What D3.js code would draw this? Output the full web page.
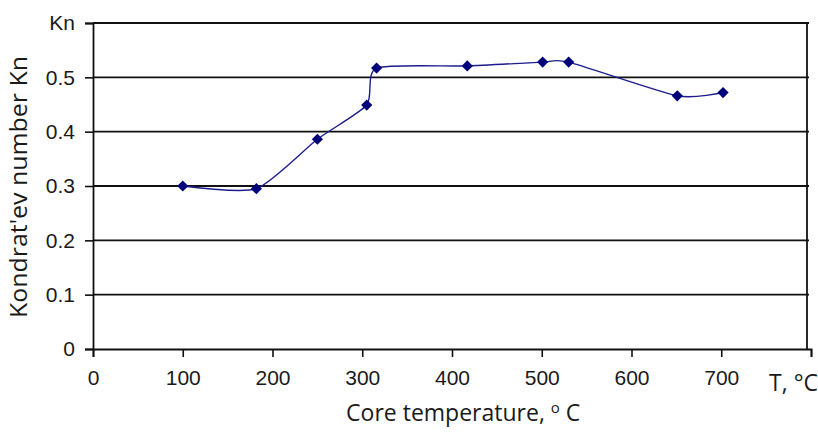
<!DOCTYPE html>
<html>
<head>
    <title>Kondrat'ev number vs core temperature</title>
    <script src="https://d3js.org/d3.v7.min.js"></script>
    <style>
        body { margin: 0; background: #fff; }
        .tick text { font-family: "Liberation Sans", Arial, sans-serif; font-size: 21px; fill: #1a1a1a; }
        .title { font-family: "Open Sans", sans-serif; font-size: 23px; fill: #1a1a1a; }
        .grid line { stroke: #111; stroke-width: 1.8px; }
        .line { fill: none; stroke: #1c1c8e; stroke-width: 1.4px; }
    </style>
</head>
<body>
    <svg width="818" height="433"></svg>
    <script>
        // data
        var temps = [100, 182, 250, 305, 316, 417, 501, 530, 651, 702];
        var knValues = [0.300, 0.295, 0.386, 0.449, 0.517, 0.521, 0.528, 0.528, 0.466, 0.472];
        var xTicks = [0, 100, 200, 300, 400, 500, 600, 700, 800];
        var yTicks = [0, 0.1, 0.2, 0.3, 0.4, 0.5, 0.6];

        var svg = d3.select("svg"),
            margin = {top: 23, right: 7, bottom: 84, left: 93},
            width = +svg.attr("width") - margin.left - margin.right,
            height = +svg.attr("height") - margin.top - margin.bottom;

        var x = d3.scaleLinear().domain([0, 800]).range([0, width]);
        var y = d3.scaleLinear().domain([0, 0.6]).range([height, 0]);

        var g = svg.append("g")
            .attr("transform", "translate(" + margin.left + "," + margin.top + ")");

        // horizontal grid lines
        g.append("g")
            .attr("class", "grid")
            .selectAll("line")
            .data(yTicks.slice(1))
            .join("line")
            .attr("x1", 0)
            .attr("x2", width - 2)
            .attr("y1", d => y(d))
            .attr("y2", d => y(d));

        // right frame line
        g.append("line")
            .attr("x1", width - 4).attr("x2", width - 4)
            .attr("y1", 0).attr("y2", height)
            .attr("stroke", "#111").attr("stroke-width", 1.8);

        var xAxis = g.append("g")
            .attr("transform", "translate(0," + height + ")")
            .call(d3.axisBottom(x).tickValues(xTicks).tickSize(8).tickPadding(13)
                .tickFormat(d => d === 800 ? "" : d));
        xAxis.select(".domain").attr("stroke", "#111").attr("stroke-width", 1.8);
        xAxis.selectAll(".tick line").attr("stroke", "#111").attr("stroke-width", 1.6);

        var yAxis = g.append("g")
            .call(d3.axisLeft(y).tickValues(yTicks).tickSize(8).tickPadding(10)
                .tickFormat(d => d === 0.6 ? "Kn" : (d === 0 ? "0" : d3.format(".1f")(d))));
        yAxis.select(".domain").attr("stroke", "#111").attr("stroke-width", 1.8);
        yAxis.selectAll(".tick line").attr("stroke", "#111").attr("stroke-width", 1.6);

        // "T, °C" at the end of the x axis
        g.append("text")
            .attr("class", "title")
            .attr("x", x(800) + 7)
            .attr("y", height + 42)
            .attr("text-anchor", "end")
            .text("T, \u00b0C");

        // axis titles
        var xt = g.append("text")
            .attr("class", "title")
            .attr("x", x(282))
            .attr("y", height + 72)
            .text("Core temperature, ");
        xt.append("tspan").attr("font-size", "15px").attr("dy", -8).text("o");
        xt.append("tspan").attr("dy", 8).text(" C");

        g.append("text")
            .attr("class", "title")
            .attr("transform", "rotate(-90)")
            .attr("x", -(318 - margin.top))
            .attr("y", -66)
            .attr("textLength", 262)
            .attr("lengthAdjust", "spacingAndGlyphs")
            .text("Kondrat'ev  number Kn");

        var points = temps.map((t, i) => ({t: t, kn: knValues[i]}));

        var line = d3.line()
            .x(d => x(d.t))
            .y(d => y(d.kn))
            .curve(d3.curveCardinal.tension(0.35));

        g.append("path")
            .datum(points)
            .attr("class", "line")
            .attr("d", line);

        g.selectAll(".pt")
            .data(points)
            .join("path")
            .attr("class", "pt")
            .attr("d", d3.symbol().type(d3.symbolDiamond2).size(80))
            .attr("transform", d => "translate(" + x(d.t) + "," + y(d.kn) + ")")
            .attr("fill", "#00007a");
    </script>
</body>
</html>
